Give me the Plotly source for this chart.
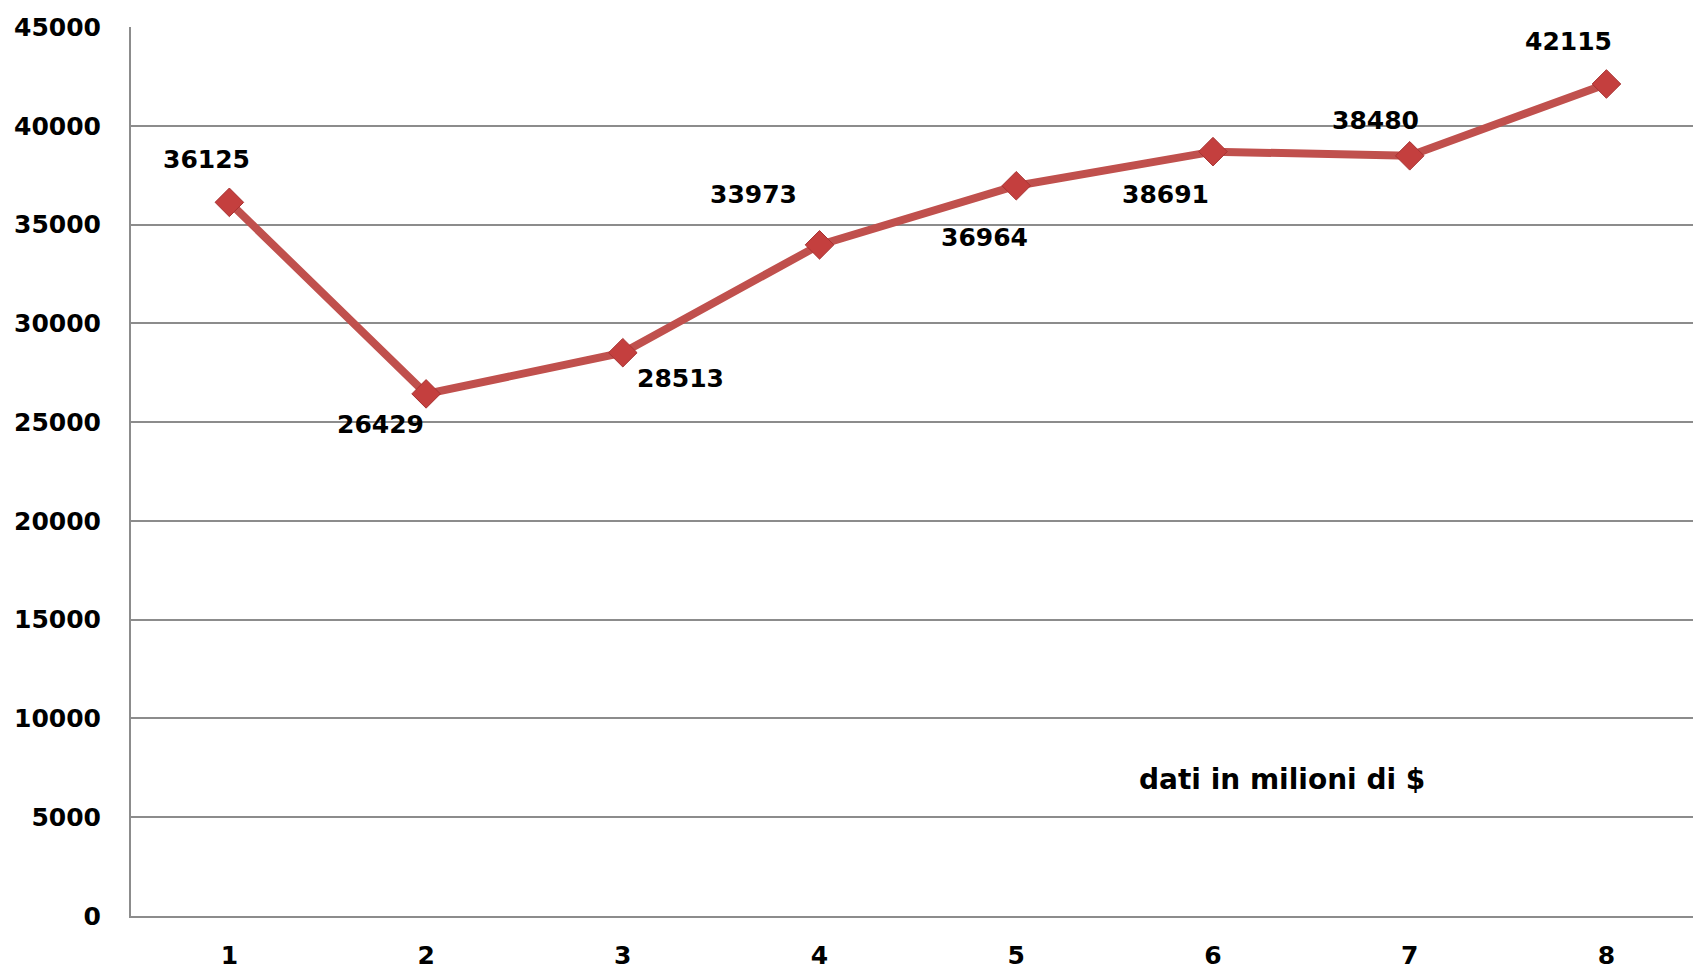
import plotly.graph_objects as go

categories = ["1", "2", "3", "4", "5", "6", "7", "8"]
values = [36125, 26429, 28513, 33973, 36964, 38691, 38480, 42115]
y_ticks = [0, 5000, 10000, 15000, 20000, 25000, 30000, 35000, 40000, 45000]
# label offsets in pixels (style)
label_offsets = [(-23, 43), (-46, -31), (58, -26), (-66, 50), (-32, -52), (-47, -43), (-34, 35), (-38, 42)]
note_text = "dati in milioni di $"

RED = "#C0504D"
FONT = "DejaVu Sans"

fig = go.Figure()
fig.add_trace(go.Scatter(
    x=categories, y=values, mode="lines+markers",
    line=dict(color=RED, width=8),
    marker=dict(symbol="diamond", size=22, color="#C43F3E",
                line=dict(color="#A83232", width=1)),
    hoverinfo="skip", showlegend=False,
))

for i, (v, (dx, dy)) in enumerate(zip(values, label_offsets)):
    fig.add_annotation(x=i, y=v, text=f"<b>{v}</b>", showarrow=False,
                       xshift=dx, yshift=dy, xanchor="center", yanchor="middle",
                       font=dict(family=FONT, size=25, color="black"))

fig.add_annotation(xref="paper", yref="paper", x=0.737, y=0.153,
                   xanchor="center", yanchor="middle",
                   text=f"<b>{note_text}</b>", showarrow=False,
                   font=dict(family=FONT, size=28, color="black"))

fig.update_layout(
    width=1693, height=969,
    margin=dict(l=131, r=0, t=27, b=53),
    paper_bgcolor="white", plot_bgcolor="white",
    font=dict(family=FONT, size=25, color="black"),
)
fig.update_xaxes(
    type="category", range=[-0.5, 7.44],
    showgrid=False, showline=True, linecolor="#8c8c8c", linewidth=2,
    ticks="", tickfont=dict(family=FONT, size=25, color="black", weight="bold"),
    ticklabelstandoff=16, zeroline=False,
)
fig.update_yaxes(
    range=[0, 45000], tickvals=y_ticks, ticktext=[str(t) for t in y_ticks],
    showgrid=True, gridcolor="#8c8c8c", gridwidth=1.5,
    showline=True, linecolor="#8c8c8c", linewidth=2,
    ticks="", tickfont=dict(family=FONT, size=25, color="black", weight="bold"),
    ticklabelstandoff=23, zeroline=False,
)

fig.write_html("out.html")
